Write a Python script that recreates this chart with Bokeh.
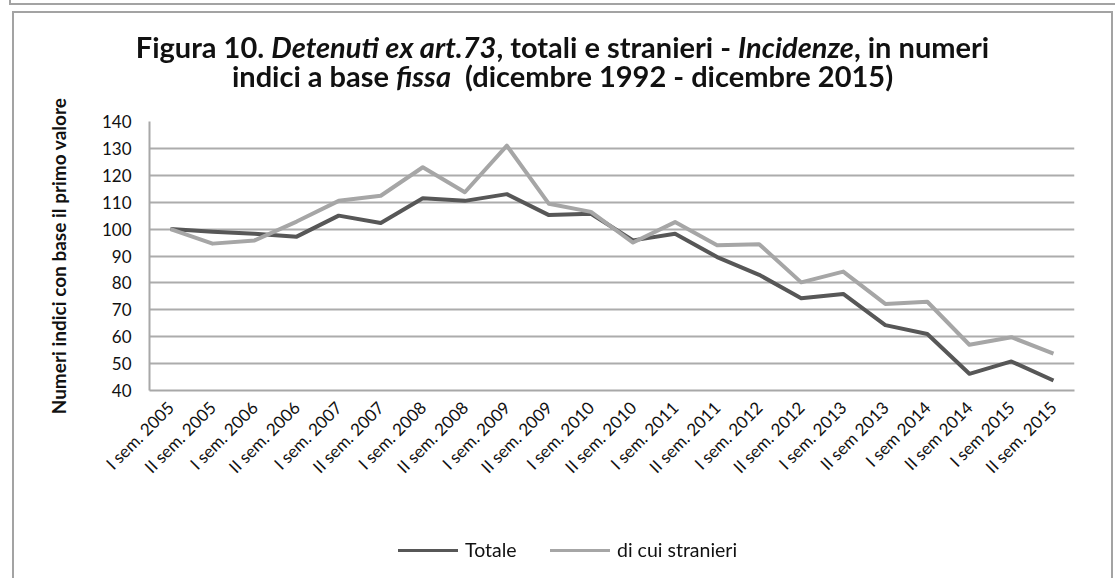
import math
from bokeh.plotting import figure
from bokeh.models import FactorRange, FixedTicker, Div
from bokeh.layouts import column
from bokeh.embed import file_html
from bokeh.resources import INLINE

# ---------------- data ----------------
categories = ["I sem. 2005", "II sem. 2005", "I sem. 2006", "II sem. 2006",
              "I sem. 2007", "II sem. 2007", "I sem. 2008", "II sem. 2008",
              "I sem. 2009", "II sem. 2009", "I sem. 2010", "II sem. 2010",
              "I sem. 2011", "II sem. 2011", "I sem. 2012", "II sem. 2012",
              "I sem. 2013", "II sem 2013", "I sem 2014", "II sem 2014",
              "I sem 2015", "II sem. 2015"]
totale = [100, 99, 98.3, 97.2, 105, 102.3, 111.5, 110.5, 113, 105.2, 105.7, 95.8,
          98.3, 89.6, 83, 74.3, 75.9, 64.3, 61, 46.2, 50.8, 43.7]
stranieri = [100, 94.6, 95.8, 102.8, 110.5, 112.4, 123, 113.7, 131, 109.4, 106.4, 95,
             102.6, 94, 94.4, 80.2, 84.2, 72.2, 73, 57, 59.8, 53.7]
y_ticks = [40, 50, 60, 70, 80, 90, 100, 110, 120, 130, 140]
series_names = ["Totale", "di cui stranieri"]

title_line1 = [("Figura 10. ", False), ("Detenuti ex art.73", True),
               (", totali e stranieri - ", False), ("Incidenze", True),
               (", in numeri", False)]
title_line2 = [("indici a base ", False), ("fissa", True),
               ("&nbsp; (dicembre 1992 - dicembre 2015)", False)]
y_title = "Numeri indici con base il primo valore"

# ---------------- style ----------------
FONT = "Lato"
DARK = "#575757"
LIGHT = "#a6a6a6"
FRAME = "#a3a3a3"
W, H = 1107, 560

p = figure(x_range=FactorRange(*categories, range_padding=0),
           y_range=(40, 140), width=W, height=H,
           output_backend="svg", toolbar_location=None,
           min_border_left=149, min_border_right=33,
           min_border_top=121, min_border_bottom=170, margin=0)
p.outline_line_color = None
p.background_fill_color = "white"
p.border_fill_color = "white"

p.xgrid.grid_line_color = None
p.ygrid.grid_line_color = "#acacac"
p.ygrid.grid_line_width = 2
p.yaxis.ticker = FixedTicker(ticks=y_ticks)

for ax in (p.xaxis[0], p.yaxis[0]):
    ax.axis_line_color = "#a8a8a8"
    ax.axis_line_width = 2
    ax.major_tick_line_color = None
    ax.minor_tick_line_color = None
    ax.major_tick_out = 0
    ax.major_label_text_font = FONT
    ax.major_label_text_font_size = "17px"
    ax.major_label_text_color = "#111111"

p.yaxis.major_label_standoff = 18
p.yaxis.axis_label = y_title
p.yaxis.axis_label_text_font = FONT
p.yaxis.axis_label_text_font_size = "19px"
p.yaxis.axis_label_text_font_style = "bold"
p.yaxis.axis_label_text_color = "#111111"
p.yaxis.axis_label_standoff = 29

p.xaxis.major_label_orientation = math.pi / 4
p.xaxis.major_label_standoff = 14

# data lines
p.line(x=categories, y=totale, line_color=DARK, line_width=4, line_join="round")
p.line(x=categories, y=stranieri, line_color=LIGHT, line_width=4, line_join="round")


# ---------------- title, frame and legend (page overlay) ----------------
def frag(parts):
    return "".join(f"<i>{t}</i>" if it else t for t, it in parts)


legend_html = ""
for name, col, lx in zip(series_names, [DARK, LIGHT], [398, 550]):
    legend_html += (f'<div style="position:fixed; left:{lx}px; top:549px; width:60px; '
                    f'height:3px; background:{col};"></div>'
                    f'<div style="position:fixed; left:{lx + 67}px; top:539px; '
                    f'font-family:Lato; font-size:19.5px; line-height:22px; color:#111111; '
                    f'white-space:nowrap;">{name}</div>')

overlay = (
    '<div style="position:fixed; left:0; top:0; width:0; height:0; z-index:10; '
    'pointer-events:none;">'
    f'<div style="position:fixed; left:9px; top:-12px; width:1120px; height:17px; '
    f'box-sizing:border-box; border:2px solid {FRAME};"></div>'
    f'<div style="position:fixed; left:12px; top:11px; width:1101px; height:620px; '
    f'box-sizing:border-box; border:2px solid {FRAME};"></div>'
    '<div style="position:fixed; left:12px; top:32px; width:1101px; text-align:center; '
    'font-family:Lato; font-weight:bold; font-size:29px; line-height:29px; '
    f'color:#111111; white-space:nowrap;">{frag(title_line1)}<br>{frag(title_line2)}</div>'
    f'{legend_html}</div>'
)
ov_div = Div(text=overlay, width=1, height=1, margin=0)

layout = column(p, ov_div, spacing=0, margin=0)
open("out.html", "w").write(file_html(layout, INLINE))
